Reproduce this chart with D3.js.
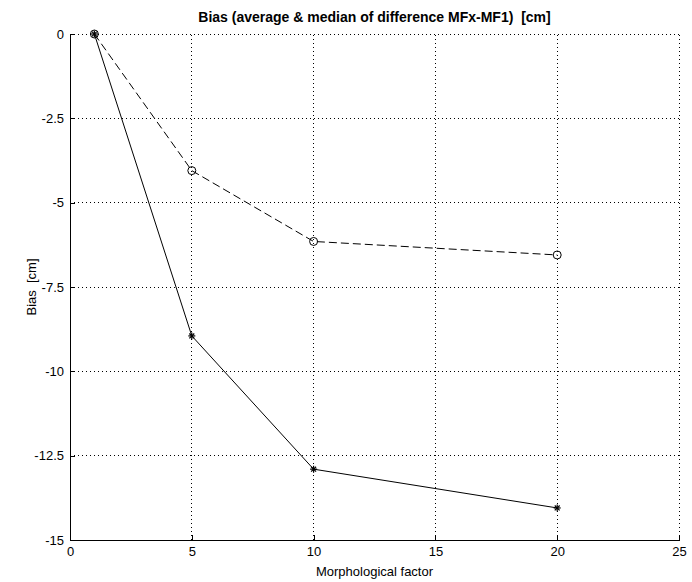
<!DOCTYPE html>
<html>
<head>
<meta charset="utf-8">
<script src="https://cdn.jsdelivr.net/npm/d3@7/dist/d3.min.js"></script>
<style>
  html, body { margin: 0; padding: 0; background: #fff; }
  svg { display: block; }
  text { font-family: "Liberation Sans Narrow", "Arial Narrow", "Liberation Sans", sans-serif; fill: #000; white-space: pre; }
</style>
</head>
<body>
<svg id="chart" width="692" height="582"></svg>
<script>
// Morphological factor (x) and bias series, in cm
const factors = [1, 5, 10, 20];
const averageBias = [0, -8.95, -12.9, -14.05];
const medianBias = [0, -4.05, -6.15, -6.55];
const xTicks = [0, 5, 10, 15, 20, 25];
const yTicks = [0, -2.5, -5, -7.5, -10, -12.5, -15];

const svg = d3.select("#chart");
const margin = { left: 70, right: 13, top: 34, bottom: 42 };
const W = 692, H = 582;
const x = d3.scaleLinear().domain([0, 25]).range([margin.left, W - margin.right]);
const y = d3.scaleLinear().domain([-15, 0]).range([H - margin.bottom, margin.top]);

// dotted grid
const grid = svg.append("g").attr("stroke", "#000").attr("stroke-width", 1)
  .attr("stroke-dasharray", "1,3").attr("shape-rendering", "crispEdges");
xTicks.filter(t => t !== 0).forEach(t => {
  grid.append("line").attr("x1", x(t)).attr("x2", x(t)).attr("y1", y(-15)).attr("y2", y(0));
});
yTicks.filter(t => t !== -15).forEach(t => {
  grid.append("line").attr("x1", x(0)).attr("x2", x(25)).attr("y1", y(t)).attr("y2", y(t));
});

// axes with inward ticks
const xAxis = d3.axisBottom(x).tickValues(xTicks).tickSizeInner(-5).tickSizeOuter(0)
  .tickPadding(8).tickFormat(d3.format("d"));
const yAxis = d3.axisLeft(y).tickValues(yTicks).tickSizeInner(-5).tickSizeOuter(0)
  .tickPadding(6).tickFormat(d => d === 0 ? "0" : String(d));

const gx = svg.append("g").attr("transform", `translate(0,${y(-15)})`).call(xAxis);
const gy = svg.append("g").attr("transform", `translate(${x(0)},0)`).call(yAxis);
[gx, gy].forEach(g => {
  g.selectAll("path, line").attr("stroke", "#000").attr("shape-rendering", "crispEdges");
  g.selectAll("text").style("font-size", "13px").attr("fill", "#000");
});
gx.selectAll("text").attr("dy", "0.6em");

// series lines
const line = d3.line().x((d, i) => x(factors[i])).y(d => y(d));
svg.append("path").datum(averageBias).attr("d", line)
  .attr("fill", "none").attr("stroke", "#000").attr("stroke-width", 1);
svg.append("path").datum(medianBias).attr("d", line)
  .attr("fill", "none").attr("stroke", "#000").attr("stroke-width", 1)
  .attr("stroke-dasharray", "8,4");

// asterisk markers for the average
const star = svg.append("g").attr("stroke", "#000").attr("stroke-width", 1.2);
averageBias.forEach((v, i) => {
  const cx = x(factors[i]), cy = y(v), r = 3.5;
  star.append("line").attr("x1", cx - r).attr("x2", cx + r).attr("y1", cy).attr("y2", cy);
  star.append("line").attr("x1", cx).attr("x2", cx).attr("y1", cy - r).attr("y2", cy + r);
  star.append("line").attr("x1", cx - r * 0.7).attr("x2", cx + r * 0.7).attr("y1", cy - r * 0.7).attr("y2", cy + r * 0.7);
  star.append("line").attr("x1", cx - r * 0.7).attr("x2", cx + r * 0.7).attr("y1", cy + r * 0.7).attr("y2", cy - r * 0.7);
});

// circle markers for the median
svg.append("g").selectAll("circle").data(medianBias).join("circle")
  .attr("cx", (d, i) => x(factors[i])).attr("cy", d => y(d)).attr("r", 4)
  .attr("fill", "none").attr("stroke", "#000").attr("stroke-width", 1);

// titles
svg.append("text").attr("x", (x(0) + x(25)) / 2).attr("y", 22).attr("text-anchor", "middle")
  .style("font-size", "14px").style("font-weight", "bold")
  .text("Bias (average & median of difference MFx-MF1)  [cm]");
svg.append("text").attr("x", (x(0) + x(25)) / 2).attr("y", 576).attr("text-anchor", "middle")
  .style("font-size", "13px").text("Morphological factor");
svg.append("text").attr("transform", `translate(36,${(y(0) + y(-15)) / 2}) rotate(-90)`)
  .attr("text-anchor", "middle").style("font-size", "13px").text("Bias  [cm]");
</script>
</body>
</html>
